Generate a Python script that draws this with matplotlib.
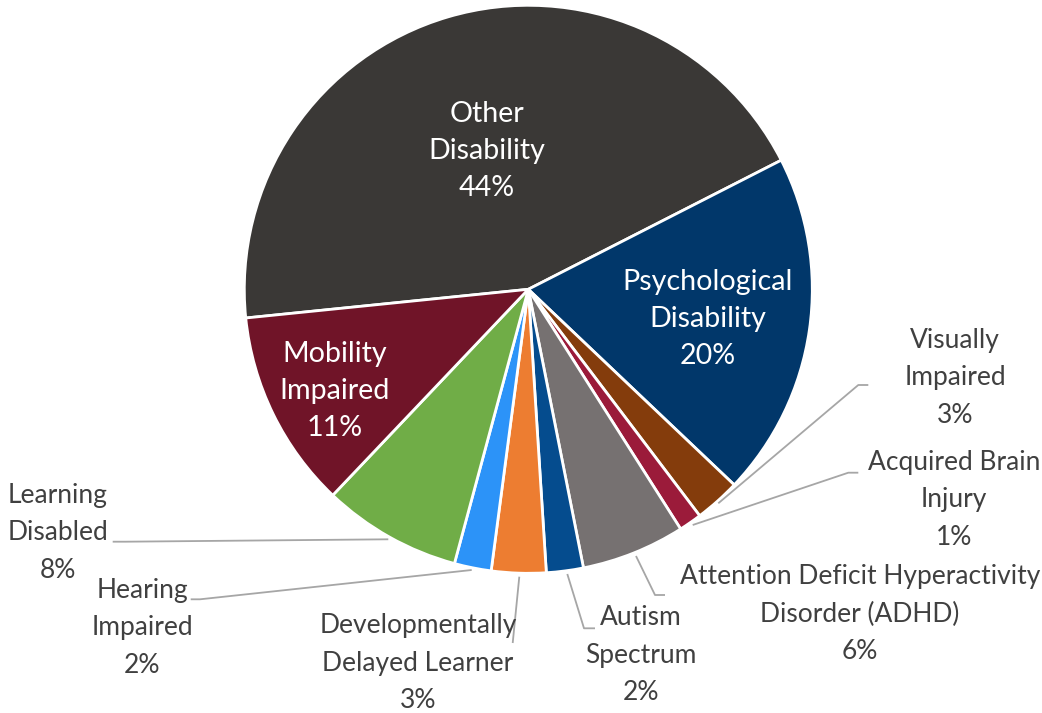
import matplotlib
matplotlib.use("Agg")
import matplotlib.pyplot as plt

categories = ["Other\nDisability", "Psychological\nDisability", "Visually\nImpaired",
              "Acquired Brain\nInjury", "Attention Deficit Hyperactivity\nDisorder (ADHD)",
              "Autism\nSpectrum", "Developmentally\nDelayed Learner", "Hearing\nImpaired",
              "Learning\nDisabled", "Mobility\nImpaired"]
values = [44.1, 19.6, 2.6, 1.3, 5.9, 2.1, 3.1, 2.1, 7.9, 11.3]
colors = ["#3A3836", "#01376A", "#843C0C", "#9B1B3A", "#767171",
          "#054C8E", "#ED7D31", "#2C93F8", "#70AD47", "#701428"]

W, H = 1042, 713
fig = plt.figure(figsize=(W / 100, H / 100), dpi=100)
ax = fig.add_axes([0, 0, 1, 1])

cx, cy, R = 528.3, 289.3, 284
wedges, _ = ax.pie(values, colors=colors, startangle=-185.8, counterclock=True,
                   center=(cx, cy), radius=R, frame=True,
                   wedgeprops=dict(edgecolor="white", linewidth=2.0))
ax.set_xlim(0, W)
ax.set_ylim(H, 0)
ax.set_aspect("equal")
ax.axis("off")

total = sum(values)
pct = [f"{round(v / total * 100):.0f}%" for v in values]
labels = [f"{c}\n{p}" for c, p in zip(categories, pct)]

FONT = "Lato"
inside = {0: (487, 151), 1: (708, 319), 9: (335, 391)}
outside = {2: (955, 378), 3: (954, 500), 4: (860, 614), 5: (641, 655),
           6: (418, 663), 7: (142, 628), 8: (58, 533)}
for i, (x, y) in inside.items():
    ax.text(x, y, labels[i], ha="center", va="center", color="white",
            fontsize=20.6, family=FONT, linespacing=1.54)
for i, (x, y) in outside.items():
    ax.text(x, y, labels[i], ha="center", va="center", color="#404040",
            fontsize=19.0, family=FONT, linespacing=1.64)

leaders = [
    [(718.3, 503.3), (858.3, 385), (868.3, 385)],
    [(692.7, 525), (848.3, 472.7), (858.3, 472.7)],
    [(636, 556), (655, 595), (665, 595)],
    [(567.3, 574), (584, 628.3), (595, 628.3)],
    [(519.3, 576.7), (512.7, 643)],
    [(471.7, 570), (200, 599.3), (190.7, 599.3)],
    [(388.3, 539.3), (125, 541.7), (112.7, 541.7)],
]
for pts in leaders:
    xs, ys = zip(*pts)
    ax.plot(xs, ys, color="#A6A6A6", lw=1.3, solid_capstyle="butt", zorder=1)

fig.savefig("out.png", dpi=100, facecolor="white")
